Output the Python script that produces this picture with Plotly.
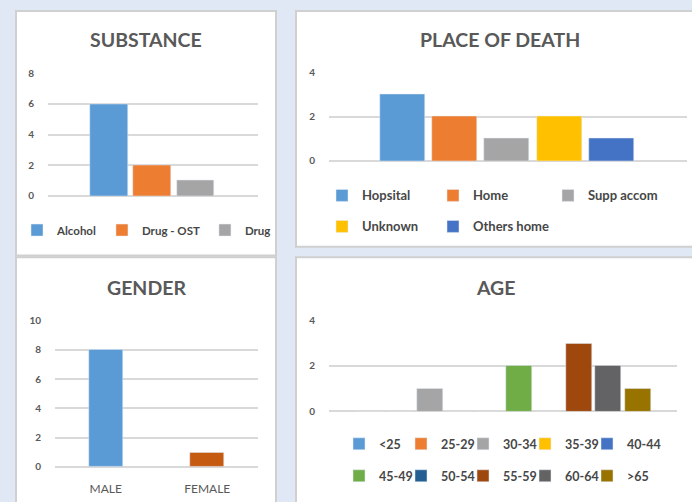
import plotly.graph_objects as go

W, H = 692, 502

# ---------------- data ----------------
substance_labels = ["Alcohol", "Drug - OST", "Drug"]
substance_values = [6, 2, 1]
substance_colors = ["#5B9BD5", "#ED7D31", "#A5A5A5"]
substance_ticks = [0, 2, 4, 6, 8]

place_labels = ["Hopsital", "Home", "Supp accom", "Unknown", "Others home"]
place_values = [3, 2, 1, 2, 1]
place_colors = ["#5B9BD5", "#ED7D31", "#A5A5A5", "#FFC000", "#4472C4"]
place_ticks = [0, 2, 4]

gender_labels = ["MALE", "FEMALE"]
gender_values = [8, 1]
gender_colors = ["#5B9BD5", "#C55A11"]
gender_ticks = [0, 2, 4, 6, 8, 10]

age_labels = ["<25", "25-29", "30-34", "35-39", "40-44",
              "45-49", "50-54", "55-59", "60-64", ">65"]
age_values = [0, 0, 1, 0, 0, 2, 0, 3, 2, 1]
age_colors = ["#5B9BD5", "#ED7D31", "#A5A5A5", "#FFC000", "#4472C4",
              "#70AD47", "#255E91", "#9E480E", "#636363", "#997300"]
age_ticks = [0, 2, 4]

titles = ["SUBSTANCE", "PLACE OF DEATH", "GENDER", "AGE"]

# ---------------- helpers ----------------
def px(x):
    return x / W


def py(y):
    return 1 - y / H


FONT = "Lato, 'Open Sans', sans-serif"
TXT = "#595959"
LEGTXT = "#474747"
GRID = "#D9D9D9"
BG = "#DFE8F4"

fig = go.Figure()

# substance
for lab, val, col in zip(substance_labels, substance_values, substance_colors):
    fig.add_trace(go.Bar(x=["s"], y=[val], name=lab, marker_color=col,
                         width=0.29, xaxis="x", yaxis="y", legend="legend"))
# place of death: legend in three columns of up to two rows
place_legends = ["legend2", "legend3", "legend9"]
for i, (lab, val, col) in enumerate(zip(place_labels, place_values, place_colors)):
    fig.add_trace(go.Bar(x=["p"], y=[val], name=lab, marker_color=col,
                         width=0.172, xaxis="x2", yaxis="y2",
                         legend=place_legends[i % 3], legendgroup="prow%d" % (i // 3)))
# gender
fig.add_trace(go.Bar(x=gender_labels, y=gender_values, marker_color=gender_colors,
                     width=0.335, xaxis="x3", yaxis="y3", showlegend=False))
# age: legend in five columns of two rows
for i, (lab, val, col) in enumerate(zip(age_labels, age_values, age_colors)):
    fig.add_trace(go.Bar(x=["a"], y=[val], name=lab, marker_color=col,
                         width=0.088, xaxis="x4", yaxis="y4",
                         legend="legend%d" % (4 + i % 5),
                         legendgroup="arow%d" % (i // 5)))

# panels
panels = [(16, 4, 276, 255), (296, 4, 700, 246), (16, 257, 276, 510), (296, 257, 700, 510)]
for x0, y0, x1, y1 in panels:
    fig.add_shape(type="rect", xref="paper", yref="paper",
                  x0=px(x0), x1=px(x1), y0=py(y1), y1=py(y0),
                  fillcolor="white", line=dict(color="#D0D0D0", width=2), layer="below")

title_pos = [(146, 33), (500, 33), (146, 288), (496, 288)]
for t, (tx, ty) in zip(titles, title_pos):
    fig.add_annotation(text=t, x=px(tx), y=py(ty), xref="paper", yref="paper",
                       showarrow=False, xanchor="center", yanchor="middle",
                       font=dict(family=FONT, size=19.5, color=TXT, weight="bold"))


def xax(dom, rng, cat=False):
    d = dict(domain=[px(dom[0]), px(dom[1])], showgrid=False, zeroline=False,
             showline=False, fixedrange=True)
    if cat:
        d.update(type="category", ticks="", ticklabelstandoff=13,
                 tickfont=dict(family=FONT, size=12, color=TXT))
    else:
        d.update(range=rng, showticklabels=False, type="category")
    return d


def yax(top, bottom, ticks, xanchor):
    return dict(domain=[py(bottom), py(top)], range=[0, ticks[-1]], tickvals=ticks,
                showgrid=True, gridcolor=GRID, gridwidth=1.5,
                zeroline=True, zerolinecolor=GRID, zerolinewidth=1.5,
                showline=False, ticks="", ticklabelstandoff=13,
                tickfont=dict(family=FONT, size=10, color=TXT, weight="bold"),
                anchor=xanchor, fixedrange=True)


def leg_row(x, y, size):
    return dict(orientation="h", x=px(x), xanchor="left", y=py(y), yanchor="middle",
                bgcolor="rgba(0,0,0,0)",
                font=dict(family=FONT, size=size, color=LEGTXT, weight="bold"),
                itemclick=False, itemdoubleclick=False)


def leg_col(x, row1_y, row_step, size):
    item_h = max(size * 1.3, 16) + 3
    top = row1_y - (item_h / 2 + 5)
    return dict(orientation="v", x=px(x), xanchor="left", y=py(top), yanchor="top",
                bgcolor="rgba(0,0,0,0)", tracegroupgap=row_step - item_h,
                font=dict(family=FONT, size=size, color=LEGTXT, weight="bold"),
                itemclick=False, itemdoubleclick=False)


AGE_STEP = 62
age_legs = {"legend%d" % (4 + k): leg_col(339 + k * AGE_STEP, 448, 32, 12.5)
            for k in range(5)}
place_cols = [322, 433, 548]
place_legs = {name: leg_col(x, 193, 31, 13) for name, x in zip(place_legends, place_cols)}

fig.update_layout(
    width=W, height=H, margin=dict(l=0, r=0, t=0, b=0),
    paper_bgcolor=BG, plot_bgcolor="rgba(0,0,0,0)",
    barmode="group", bargap=0, bargroupgap=0,
    xaxis=xax((48, 258), [-0.8, 0.815]),
    yaxis=yax(68, 194, substance_ticks, "x"),
    xaxis2=dict(xax((329, 687), [-0.679, 0.687]), anchor="y2"),
    yaxis2=yax(67, 158, place_ticks, "x2"),
    xaxis3=dict(xax((55, 258), None, cat=True), anchor="y3"),
    yaxis3=yax(322, 472, gender_ticks, "x3"),
    xaxis4=dict(xax((329, 677), [-0.591, 0.581]), anchor="y4"),
    yaxis4=yax(322, 415, age_ticks, "x4"),
    legend=leg_row(17, 229, 11.5),
    showlegend=True,
    **place_legs,
    **age_legs,
)

post = ("document.body.style.margin='0';"
        "var g=document.querySelector('.plotly-graph-div');"
        "g.style.position='fixed';g.style.left='0px';g.style.top='0px';")
fig.write_html("out.html", post_script=post, config={"displayModeBar": False})
